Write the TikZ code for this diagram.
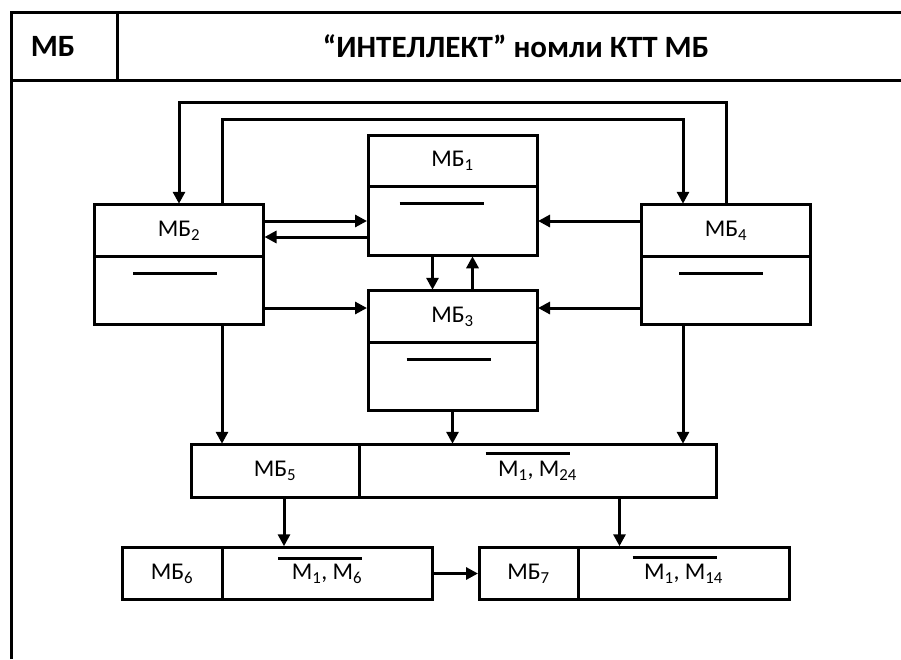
\documentclass[tikz,border=0pt]{standalone}
\usepackage{fontspec}
\setmainfont{Carlito}
\usetikzlibrary{arrows.meta,positioning}

\begin{document}
\begin{tikzpicture}[x=1pt,y=-1pt,line width=3pt,>={Triangle[length=12pt,width=12pt]},
    box/.style={draw,inner sep=0pt,outer sep=0pt,font=\fontsize{24}{28}\selectfont},
    top part/.style={box,minimum width=169pt,minimum height=51.5pt},
    low part/.style={box,minimum width=169pt,minimum height=68.5pt},
    row part/.style={box,minimum height=52.5pt},
    head text/.style={inner sep=0pt,font=\bfseries\fontsize{31}{37}\selectfont},
    link/.style={->,shorten >=1pt}]
    \useasboundingbox (0,0) rectangle (901,659);

    % frame and heading
    \draw (11,659) -- (11,12) -- (901,12);
    \draw (11,80) -- (901,80);
    \draw (117,12) -- (117,80);
    \node[head text] (code) at (53,46) {МБ};
    \node[head text] (title) at (516,46) {“ИНТЕЛЛЕКТ” номли КТТ МБ};

    % blocks with two parts
    \node[top part] (mb1) at (452.5,161) {МБ\textsubscript{1}};
    \node[low part] (mb1l) [below=0pt of mb1] {};
    \node[top part] (mb2) at (179,230.5) {МБ\textsubscript{2}};
    \node[low part] (mb2l) [below=0pt of mb2] {};
    \node[top part] (mb3) at (452.5,316.5) {МБ\textsubscript{3}};
    \node[low part] (mb3l) [below=0pt of mb3] {};
    \node[top part] (mb4) at (726,230.5) {МБ\textsubscript{4}};
    \node[low part] (mb4l) [below=0pt of mb4] {};

    \draw ([xshift=-53pt,yshift=-17pt]mb1l.north) -- ([xshift=31pt,yshift=-17pt]mb1l.north);
    \draw ([xshift=-46pt,yshift=-17pt]mb2l.north) -- ([xshift=38pt,yshift=-17pt]mb2l.north);
    \draw ([xshift=-46pt,yshift=-17pt]mb3l.north) -- ([xshift=38pt,yshift=-17pt]mb3l.north);
    \draw ([xshift=-47pt,yshift=-17pt]mb4l.north) -- ([xshift=37pt,yshift=-17pt]mb4l.north);

    % lower rows
    \node[row part,minimum width=168pt] (mb5) at (275,471) {МБ\textsubscript{5}};
    \node[row part,minimum width=357pt] (mb5r) [right=0pt of mb5] {M\textsubscript{1}, M\textsubscript{24}};
    \node[row part,minimum width=100pt] (mb6) at (172,573.5) {МБ\textsubscript{6}};
    \node[row part,minimum width=210pt] (mb6r) [right=0pt of mb6] {M\textsubscript{1}, M\textsubscript{6}};
    \node[row part,minimum width=99pt] (mb7) at (528.5,573.5) {МБ\textsubscript{7}};
    \node[row part,minimum width=211pt] (mb7r) [right=0pt of mb7] {M\textsubscript{1}, M\textsubscript{14}};

    \draw ([xshift=-52pt,yshift=-9pt]mb5r.north) -- ([xshift=32pt,yshift=-9pt]mb5r.north);
    \draw ([xshift=-49pt,yshift=-11pt]mb6r.north) -- ([xshift=35pt,yshift=-11pt]mb6r.north);
    \draw ([xshift=-51pt,yshift=-10pt]mb7r.north) -- ([xshift=33pt,yshift=-10pt]mb7r.north);

    % connections
    \coordinate (loop out) at (450,102);
    \coordinate (loop in) at (450,119);
    \draw[link] (mb4.north) |- (loop out) -| (mb2.north);
    \draw[link] ([xshift=43pt]mb2.north) |- (loop in) -| ([xshift=-43pt]mb4.north);

    \draw[link] (mb1l.west -| mb2.east) -- (mb1l.west);
    \draw[link] ([yshift=-16pt]mb1l.west) -- ([yshift=-16pt]mb1l.west -| mb2.east);
    \draw[link] (mb1l.east -| mb4.west) -- (mb1l.east);
    \draw[link] ([yshift=8.5pt]mb3.west -| mb2l.east) -- ([yshift=8.5pt]mb3.west);
    \draw[link] ([yshift=8.5pt]mb3.east -| mb4l.west) -- ([yshift=8.5pt]mb3.east);
    \draw[link] ([xshift=-20pt]mb1l.south) -- ([xshift=-20pt]mb3.north);
    \draw[link] ([xshift=20pt]mb3.north) -- ([xshift=20pt]mb1l.south);

    \draw[link] ([xshift=43pt]mb2l.south) -- ([xshift=43pt]mb2l.south |- mb5.north);
    \draw[link] (mb3l.south) -- (mb3l.south |- mb5r.north);
    \draw[link] ([xshift=-43pt]mb4l.south) -- ([xshift=-43pt]mb4l.south |- mb5r.north);
    \draw[link] ([xshift=9pt]mb5.south) -- ([xshift=9pt]mb5.south |- mb6r.north);
    \draw[link] ([xshift=-64pt]mb7r.north |- mb5r.south) -- ([xshift=-64pt]mb7r.north);
    \draw[link] (mb6r.east) -- (mb7.west);
\end{tikzpicture}
\end{document}
